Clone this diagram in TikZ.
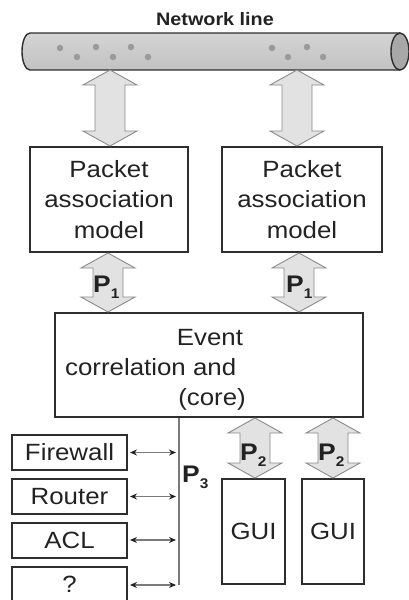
\documentclass[tikz,border=0pt]{standalone}
\usepackage{fontspec}
\setmainfont{Liberation Sans}[FakeStretch=1.1]
\usetikzlibrary{arrows.meta,calc}

\definecolor{boxc}{HTML}{2E2E2E}
\definecolor{txtc}{HTML}{222222}
\definecolor{arrf}{HTML}{E2E2E2}
\definecolor{arrd}{HTML}{8A8A8A}
\definecolor{tubetop}{HTML}{D4D4D4}
\definecolor{tubebot}{HTML}{C2C2C2}
\definecolor{tubeend}{HTML}{A8A8A8}
\definecolor{dotc}{HTML}{9A9A9A}
\definecolor{linec}{HTML}{7A7A7A}
\definecolor{tipc}{HTML}{222222}

\tikzset{
  txt/.style={font=\fontsize{23.5}{30.5}\selectfont, text=txtc, inner sep=0pt},
  box/.style={txt, draw=boxc, line width=2pt, align=center},
  plabel/.style={font=\fontsize{24}{28}\selectfont\bfseries, text=txtc, inner sep=0pt, anchor=base west},
  bigarrowstyle/.style={fill=arrf, draw=arrd, line width=0.9pt, line join=miter},
  link/.style={draw=linec, line width=1.1pt, shorten <=2pt, shorten >=3pt,
    {Stealth[length=7pt,width=6pt,color=tipc]}-{Stealth[length=7pt,width=6pt,color=tipc]}},
  vline/.style={draw=linec, line width=1.4pt},
  pkt/.style={circle, fill=dotc, inner sep=0pt, minimum size=6.5pt},
}

% hollow double-headed block arrow, drawn straight down from #1 to #2
\newcommand\bigdarrow[2]{%
  \path[bigarrowstyle] let \p1=#1, \p2=#2 in
    (\x1,\y1) -- (\x1+27pt,\y1-15pt) -- (\x1+15pt,\y1-15pt)
    -- (\x1+15pt,\y2+15pt) -- (\x1+27pt,\y2+15pt) -- (\x1,\y2)
    -- (\x1-27pt,\y2+15pt) -- (\x1-15pt,\y2+15pt)
    -- (\x1-15pt,\y1-15pt) -- (\x1-27pt,\y1-15pt) -- cycle;
}
\newcommand\psub[1]{\raisebox{-6pt}{\fontsize{14}{14}\selectfont\bfseries #1}}

\begin{document}
\begin{tikzpicture}[x=1pt, y=-1pt]
\useasboundingbox (0,0) rectangle (409,600);

% network line (tube)
\node[font=\fontsize{18}{20}\selectfont\bfseries, text=txtc, inner sep=0pt, anchor=base] (title) at (215,25) {Network line};
\path[top color=tubetop, bottom color=tubebot, draw=boxc, line width=1.4pt]
  (400,33) -- (30,33) arc[start angle=90, end angle=270, x radius=8pt, y radius=18.5pt]
  -- (400,70);
\draw[fill=tubeend, draw=boxc, line width=1.4pt] (400,51.5) ellipse[x radius=9pt, y radius=18.5pt];
\foreach \px/\py [count=\i] in {60/48,77/57,96/47,113/57,131/47,148/57,272/48,288/57,307/47,323/57}
  \node[pkt] (d\i) at (\px,\py) {};
\coordinate (tubeL) at (110,70);
\coordinate (tubeR) at (297,70);

% packet association models
\node[box, minimum width=158pt, minimum height=105pt] (pa1) at (109,199.5) {Packet\\association\\model};
\node[box, minimum width=160pt, minimum height=105pt] (pa2) at (302,199.5) {Packet\\association\\model};

% event correlation core
\node[box, minimum width=308pt, minimum height=104pt] (evt) at (209,365) {};
\node[txt, anchor=base] (ev1) at (210,345) {Event};
\node[txt, anchor=base west] (ev2) at (65,375) {correlation and};
\node[txt, anchor=base] (ev3) at (212,405) {(core)};

% external devices
\node[box, minimum width=115pt, minimum height=35pt] (fw) at (69.5,452.5) {Firewall};
\node[box, minimum width=115pt, minimum height=35pt] (rt) at (69.5,496.5) {Router};
\node[box, minimum width=115pt, minimum height=35pt] (acl) at (69.5,540) {ACL};
\node[box, minimum width=115pt, minimum height=35pt] (unk) at (69.5,584) {?};

% user interfaces
\node[box, minimum width=63pt, minimum height=105pt] (gui1) at (253.5,531.5) {GUI};
\node[box, minimum width=62pt, minimum height=105pt] (gui2) at (333,531.5) {GUI};

% block arrows
\bigdarrow{(tubeL)}{(tubeL |- pa1.north)}
\bigdarrow{(tubeR)}{(tubeR |- pa2.north)}
\coordinate (p1a) at ($(pa1.south)+(-1,0)$);
\coordinate (p1b) at ($(pa2.south)+(-3,0)$);
\bigdarrow{(p1a)}{(p1a |- evt.north)}
\bigdarrow{(p1b)}{(p1b |- evt.north)}
\coordinate (p2a) at ($(gui1.north)+(1.5,0)$);
\bigdarrow{(p2a |- evt.south)}{(p2a)}
\bigdarrow{(gui2.north |- evt.south)}{(gui2.north)}

% P3 bus
\coordinate (vx) at (179,0);
\coordinate (vtop) at (vx |- evt.south);
\coordinate (vbot) at (179,585);
\draw[vline] (vtop) -- (vbot);
\draw[link] (fw.east) -- (fw.east -| vtop);
\draw[link] (rt.east) -- (rt.east -| vtop);
\draw[link] (acl.east) -- (acl.east -| vtop);
\draw[link] (vbot -| unk.east) -- (vbot);

% labels
\node[plabel] (l1a) at (93,292) {P\psub{1}};
\node[plabel] (l1b) at (286,292) {P\psub{1}};
\node[plabel] (l2a) at (240,460) {P\psub{2}};
\node[plabel] (l2b) at (318,460) {P\psub{2}};
\node[plabel] (l3) at (182,482) {P\psub{3}};
\end{tikzpicture}
\end{document}
